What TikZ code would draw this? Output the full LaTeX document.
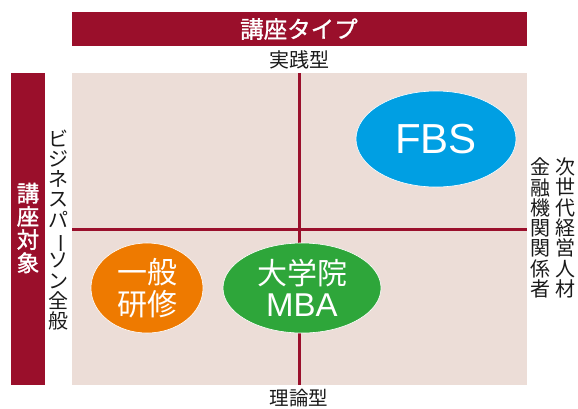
\documentclass[tikz,border=0pt]{standalone}
\usepackage{fontspec}
\setmainfont{Noto Sans CJK JP}
\newfontfamily\heavycjk[FakeBold=1.2]{Noto Sans CJK JP}
\newfontfamily\latinsans{Liberation Sans}
\usepackage{graphicx}
\definecolor{darkred}{HTML}{9A0F2B}
\definecolor{pinkbg}{HTML}{ECDDD7}
\definecolor{orangeC}{HTML}{EE7A00}
\definecolor{greenC}{HTML}{2EA63A}
\definecolor{blueC}{HTML}{009FE3}
\definecolor{textC}{HTML}{1A1A1A}
\tikzset{
  banner/.style={fill=darkred, draw=none},
  axisline/.style={draw=darkred, line width=3pt},
  label/.style={text=textC, inner sep=0pt, align=center},
  vlabel/.style={text=textC, inner sep=0pt, align=center, font=\fontsize{20}{20.3}\selectfont},
  bubble/.style={ellipse, draw=white, line width=0.6pt, text=white, inner sep=0pt, align=center}
}
\usetikzlibrary{shapes.geometric}
\begin{document}
\begin{tikzpicture}[x=1pt,y=-1pt]
\useasboundingbox (0,0) rectangle (578,408);
% top banner
\fill[banner] (72,12) rectangle (527,46);
\node[text=white, inner sep=0pt, font=\heavycjk\fontsize{23.5}{24}\selectfont] (title) at (299,29) {講座タイプ};
% left banner
\fill[banner] (11,73) rectangle (45,385);
\node[text=white, inner sep=0pt, align=center, font=\heavycjk\fontsize{22.5}{23.2}\selectfont] (target) at (28,228) {講\\座\\対\\象};
% pink area
\fill[pinkbg] (72,73) rectangle (527,385);
\coordinate (vt) at (299,73);
\coordinate (vb) at (299,385);
\coordinate (hl) at (72,229);
\coordinate (hr) at (527,229);
\draw[axisline] (vt) -- (vb);
\draw[axisline] (hl) -- (hr);
% axis labels
\node[label, font=\fontsize{20}{20}\selectfont] (top) at (299,60) {実践型};
\node[label, font=\fontsize{19.5}{20}\selectfont] (bottom) at (299,398) {理論型};
\node[vlabel] (left) at (58,230) {ビ\\ジ\\ネ\\ス\\パ\\\rotatebox[origin=c]{-90}{ー}\\ソ\\ン\\全\\般};
\node[vlabel] (right1) at (565,228) {次\\世\\代\\経\\営\\人\\材};
\node[vlabel] (right2) at (540,228) {金\\融\\機\\関\\関\\係\\者};
% bubbles
\node[bubble, fill=blueC, minimum width=160pt, minimum height=96pt, font=\latinsans\fontsize{42}{42}\selectfont] (fbs) at (436,139) {FBS};
\node[bubble, fill=orangeC, minimum width=112pt, minimum height=90pt, font=\fontsize{30}{32}\selectfont] (general) at (147,288) {一般\\研修};
\node[bubble, fill=greenC, minimum width=158pt, minimum height=90pt, font=\fontsize{30}{32}\selectfont] (mba) at (302,288) {大学院\\{\latinsans\fontsize{33}{32}\selectfont MBA}};
\end{tikzpicture}
\end{document}
